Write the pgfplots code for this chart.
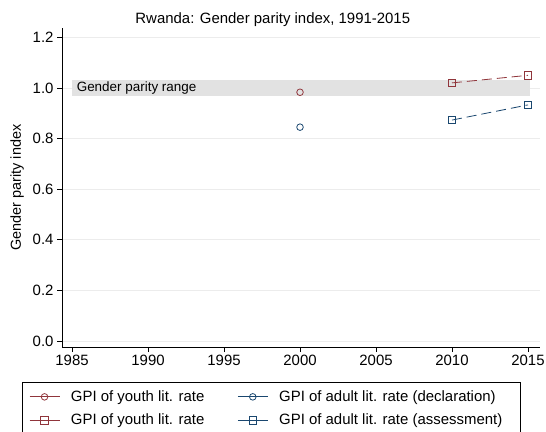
\documentclass[border=0pt]{standalone}
\usepackage{pgfplots}
\pgfplotsset{compat=1.18}
\usepackage{fontspec}
\setmainfont{Liberation Sans}
\definecolor{sred}{RGB}{144,53,59}
\definecolor{sblue}{RGB}{26,71,111}
\definecolor{band}{RGB}{226,226,226}
\definecolor{gridc}{RGB}{236,236,236}
\begin{document}
\begin{tikzpicture}
\path[use as bounding box] (0,0) rectangle (546bp,432bp);
\begin{axis}[
  at={(62bp,85bp)}, anchor=south west,
  scale only axis, width=478bp, height=319bp,
  xmin=1984.34, xmax=2015.79, ymin=-0.024, ymax=1.237,
  axis x line*=bottom, axis y line*=left,
  axis line style={-, black, line width=0.6bp},
  xtick={1985,1990,...,2015}, ytick={0,0.2,...,1.2},
  yticklabel style={/pgf/number format/.cd, fixed, fixed zerofill, precision=1},
  xticklabel style={/pgf/number format/.cd, 1000 sep={}},
  /pgf/number format/assume math mode=true,
  tick align=outside, major tick length=5bp,
  tick style={black, line width=0.6bp},
  ymajorgrids, grid style={gridc, line width=0.8bp},
  ticklabel style={font=\fontsize{15}{17}\selectfont},
  title={Rwanda: Gender parity index, 1991-2015},
  title style={at={(axis description cs:0.441,1)}, anchor=base, yshift=-1bp, font=\fontsize{15}{17}\selectfont},
  ylabel={Gender parity index},
  ylabel style={at={(axis description cs:-0.094,0.5)}, anchor=center, font=\fontsize{14.5}{16}\selectfont},
  clip=false,
  legend columns=2,
  legend style={at={(axis description cs:-0.084,-0.111)}, anchor=north west,
    draw=black, line width=0.6bp, font=\fontsize{15}{17}\selectfont,
    inner xsep=7bp, inner ysep=6bp,
    /tikz/every odd column/.append style={column sep=9bp},
    /tikz/every even column/.append style={column sep=31bp},
    row sep=7bp},
  legend cell align=left,
  legend image code/.code={\draw[solid,mark repeat=2,mark phase=2,#1] plot coordinates {(0bp,0bp) (15bp,0bp) (30bp,0bp)};},
]
\addplot[fill=band, draw=none, forget plot] coordinates {(1985,0.97) (2015.1,0.97) (2015.1,1.03) (1985,1.03)} -- cycle;
\node[anchor=west, font=\fontsize{13.5}{15}\selectfont, inner sep=0pt] at (axis cs:1985.3,1.0) {Gender parity range};
\addplot[sred, line width=0.8bp, mark=o, mark size=3.3bp, mark options={solid, line width=0.8bp}] coordinates {(2000,0.983)};
\addlegendentry{GPI of youth lit. rate}
\addplot[sblue, line width=0.8bp, mark=o, mark size=3.3bp, mark options={solid, line width=0.8bp}] coordinates {(2000,0.845)};
\addlegendentry{GPI of adult lit. rate (declaration)}
\addplot[sred, line width=0.8bp, dash pattern=on 10bp off 5bp, mark=square, mark size=3.8bp, mark options={solid, line width=0.8bp}] coordinates {(2010,1.02) (2015,1.05)};
\addlegendentry{GPI of youth lit. rate}
\addplot[sblue, line width=0.8bp, dash pattern=on 10bp off 5bp, mark=square, mark size=3.8bp, mark options={solid, line width=0.8bp}] coordinates {(2010,0.873) (2015,0.933)};
\addlegendentry{GPI of adult lit. rate (assessment)\hspace*{9bp}}
\end{axis}
\end{tikzpicture}
\end{document}
